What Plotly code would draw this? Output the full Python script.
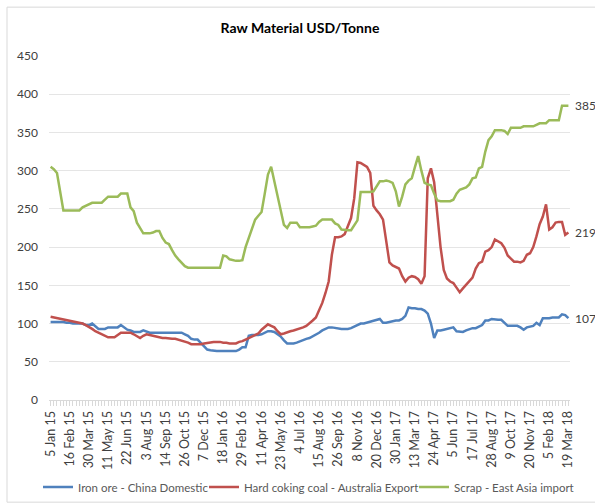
import plotly.graph_objects as go

tick_labels = ["5 Jan 15", "16 Feb 15", "30 Mar 15", "11 May 15", "22 Jun 15", "3 Aug 15",
               "14 Sep 15", "26 Oct 15", "7 Dec 15", "18 Jan 16", "29 Feb 16", "11 Apr 16",
               "23 May 16", "4 Jul 16", "15 Aug 16", "26 Sep 16", "8 Nov 16", "20 Dec 16",
               "30 Jan 17", "13 Mar 17", "24 Apr 17", "5 Jun 17", "17 Jul 17", "28 Aug 17",
               "9 Oct 17", "20 Nov 17", "5 Feb 18", "19 Mar 18"]
label_step = 6  # one labelled week every 6 weekly observations

iron_ore = [102, 102, 102, 102, 102, 101, 101, 100, 100, 100,
            100, 98, 98, 100, 97, 93, 93, 93, 95, 95,
            95, 95, 98, 95, 92, 91, 89, 89, 89, 91,
            89, 88, 88, 88, 88, 88, 88, 88, 88, 88,
            88, 88, 86, 84, 80, 79, 79, 75, 70, 66,
            65, 64, 64, 64, 64, 64, 64, 64, 64, 66,
            69, 69, 84, 85, 85, 85, 86, 88, 90, 90,
            89, 86, 83, 78, 74, 74, 74, 75, 77, 78,
            80, 81, 83, 85, 88, 91, 93, 95, 95, 94,
            93, 93, 93, 93, 94, 96, 99, 100, 100, 101,
            102, 103, 104, 106, 101, 101, 102, 103, 104, 104,
            106, 110, 121, 120, 120, 119, 119, 117, 113, 100,
            81, 91, 91, 92, 93, 94, 95, 90, 89, 89,
            91, 93, 94, 94, 96, 98, 104, 104, 106, 105,
            105, 105, 101, 97, 97, 97, 97, 95, 92, 95,
            96, 97, 101, 98, 107, 107, 107, 108, 108, 108,
            112, 111, 107]

coking_coal = [109, 108, 107, 106, 105, 104, 104, 103, 102, 101,
               100, 98, 96, 93, 90, 88, 85, 83, 82, 82,
               82, 85, 88, 88, 88, 88, 86, 84, 81, 84,
               86, 85, 84, 83, 82, 81, 81, 80, 80, 80,
               79, 78, 77, 75, 73, 73, 73, 73, 74, 75,
               76, 76, 76, 76, 75, 75, 74, 74, 74, 76,
               77, 79, 81, 83, 85, 87, 92, 96, 99, 97,
               95, 90, 86, 87, 89, 90, 91, 92, 93, 95,
               97, 100, 104, 108, 117, 127, 140, 155, 190, 213,
               213, 214, 217, 227, 238, 264, 311, 310, 307, 305,
               297, 254, 248, 243, 236, 210, 180, 176, 174, 172,
               162, 155, 160, 162, 161, 158, 152, 162, 290, 303,
               285, 245, 200, 170, 159, 155, 153, 147, 141, 146,
               151, 155, 160, 172, 179, 181, 194, 196, 200, 210,
               208, 205, 199, 189, 185, 181, 181, 180, 182, 190,
               192, 200, 214, 230, 240, 256, 223, 226, 232, 233,
               233, 216, 219]

scrap = [305, 302, 297, 270, 248, 248, 248, 248, 248, 248,
         252, 254, 257, 258, 258, 258, 258, 262, 266, 266,
         266, 266, 270, 270, 270, 252, 247, 232, 225, 218,
         218, 218, 219, 221, 221, 212, 206, 204, 196, 189,
         184, 179, 175, 173, 173, 173, 173, 173, 173, 173,
         173, 173, 173, 173, 189, 188, 184, 183, 182, 182,
         183, 200, 212, 226, 236, 241, 246, 270, 295, 305,
         285, 268, 245, 229, 225, 232, 232, 232, 226, 226,
         226, 226, 227, 228, 233, 236, 236, 236, 236, 231,
         229, 223, 222, 222, 222, 228, 235, 272, 272, 272,
         272, 273, 280, 286, 286, 287, 286, 284, 273, 253,
         266, 282, 287, 290, 305, 319, 300, 284, 282, 281,
         270, 261, 260, 260, 260, 260, 262, 270, 275, 276,
         278, 282, 290, 291, 303, 305, 325, 340, 345, 353,
         353, 353, 352, 348, 356, 356, 356, 356, 358, 358,
         358, 358, 360, 362, 362, 362, 366, 366, 366, 366,
         385, 385, 385]

series_names = ["Iron ore - China Domestic", "Hard coking coal - Australia Export",
                "Scrap - East Asia import"]
series_colors = ["#4F81BD", "#C0504D", "#9BBB59"]
series_values = [iron_ore, coking_coal, scrap]
legend_ids = ["legend", "legend2", "legend3"]
legend_left_px = [38, 204, 414]

weeks = list(range(len(scrap)))
tick_pos = [i * label_step for i in range(len(tick_labels))]

FONT = "Lato, 'Open Sans', sans-serif"

fig = go.Figure()
for name, color, vals, lg in zip(series_names, series_colors, series_values, legend_ids):
    fig.add_trace(go.Scatter(x=weeks, y=vals, mode="lines", name=name, legend=lg,
                             line=dict(color=color, width=2.5)))

# end-value labels
for color, vals in zip(series_colors, series_values):
    fig.add_annotation(x=1.0, xref="paper", y=vals[-1], yref="y",
                       text=str(vals[-1]), showarrow=False, xanchor="left",
                       xshift=3, font=dict(size=12, color="#404040", family=FONT))

# outer chart border
fig.add_shape(type="rect", xref="paper", yref="paper",
              x0=-0.0806, x1=1.06, y0=-0.297, y1=1.142,
              line=dict(color="#D9D9D9", width=1), fillcolor="rgba(0,0,0,0)")

legend_style = dict(orientation="h", xref="container", yref="container",
                    xanchor="left", y=(504 - 487) / 504, yanchor="middle",
                    font=dict(size=11.5, color="#595959", family=FONT),
                    itemwidth=30, bgcolor="rgba(0,0,0,0)")

fig.update_layout(
    width=595, height=504,
    margin=dict(l=49, r=25, t=56, b=104, autoexpand=False),
    paper_bgcolor="white", plot_bgcolor="white",
    font=dict(family=FONT, color="#595959", size=12),
    title=dict(text="<b>Raw Material USD/Tonne</b>", x=300 / 595, xanchor="center",
               xref="container", yref="container",
               y=1 - 28 / 504, yanchor="middle", font=dict(size=14, color="#000000", family=FONT)),
    showlegend=True,
    xaxis=dict(range=[-0.5, len(weeks) - 0.5], tickmode="array", tickvals=tick_pos,
               ticktext=tick_labels, tickangle=-90, showgrid=False, zeroline=False,
               automargin=False,
               showline=True, linecolor="#D9D9D9", linewidth=1,
               ticks="outside", ticklen=5, tickcolor="#D9D9D9",
               minor=dict(dtick=1, tick0=0, ticks="outside", ticklen=5, tickcolor="#D9D9D9"),
               tickfont=dict(size=12.5, color="#404040", family=FONT)),
    yaxis=dict(range=[0, 450], dtick=50, tick0=0, showgrid=True, gridcolor="#E5E5E5",
               gridwidth=1, zeroline=False, showline=False, ticks="", automargin=False,
               ticklabelstandoff=10,
               tickfont=dict(size=12, color="#404040", family=FONT)),
)
for lg, px in zip(legend_ids, legend_left_px):
    fig.update_layout({lg: dict(legend_style, x=px / 595)})

fig.write_html("out.html", config={"displayModeBar": False},
               post_script="document.body.style.margin='0px';")
